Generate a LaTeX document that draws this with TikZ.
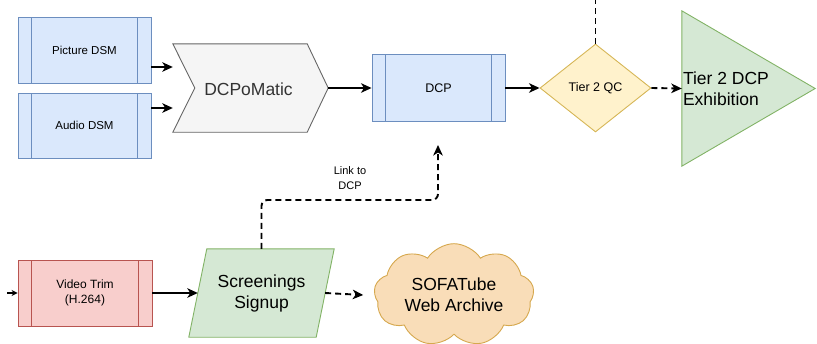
\documentclass[tikz,border=0pt]{standalone}
\usepackage{fontspec}
\setmainfont{Liberation Sans}
\usetikzlibrary{shapes.geometric,shapes.symbols,arrows.meta}
\definecolor{bfill}{HTML}{DAE8FC}\definecolor{bline}{HTML}{6C8EBF}
\definecolor{rfill}{HTML}{F8CECC}\definecolor{rline}{HTML}{B85450}
\definecolor{gfill}{HTML}{D5E8D4}\definecolor{gline}{HTML}{82B366}
\definecolor{yfill}{HTML}{FFF2CC}\definecolor{yline}{HTML}{D6B656}
\definecolor{grfill}{HTML}{F5F5F5}\definecolor{grline}{HTML}{666666}
\definecolor{ofill}{HTML}{F9DDB8}\definecolor{oline}{HTML}{D6A84E}
\tikzset{
  proc/.style={rectangle, draw=#1line, fill=#1fill, line width=0.9pt, inner sep=0pt, align=center,
    path picture={\draw[#1line, line width=0.9pt]
      ([xshift=13.5pt]path picture bounding box.north west) -- ([xshift=13.5pt]path picture bounding box.south west)
      ([xshift=-13.5pt]path picture bounding box.north east) -- ([xshift=-13.5pt]path picture bounding box.south east);}},
  ghost/.style={rectangle, inner sep=0pt},
  edge/.style={line width=1.9pt, -{Stealth[length=10.5pt,width=9.5pt,inset=3pt]}},
  dedge/.style={edge, dash pattern=on 6pt off 4pt},
  smalltxt/.style={font=\fontsize{11.5}{14}\selectfont},
  bigtxt/.style={font=\fontsize{17.5}{21}\selectfont, align=center},
}
\begin{document}
\begin{tikzpicture}[x=1pt,y=-1pt]
\useasboundingbox (0,0) rectangle (817,343);
% top row
\node[proc=b, minimum width=133pt, minimum height=66pt, smalltxt] (picdsm) at (84.5,50) {Picture DSM};
\node[proc=b, minimum width=133pt, minimum height=65pt, smalltxt] (audiodsm) at (84.5,125.5) {Audio DSM};
\node[ghost, minimum width=155pt, minimum height=88pt] (dcpo) at (250.5,88) {};
\draw[draw=grline, fill=grfill, line width=0.9pt] (dcpo.north west) -- ([xshift=-21pt]dcpo.north east) -- (dcpo.east)
  -- ([xshift=-21pt]dcpo.south east) -- (dcpo.south west) -- ([xshift=22pt]dcpo.west) -- cycle;
\node[bigtxt, text=black!80] (dcpotxt) at ([xshift=-2pt,yshift=-1pt]dcpo.center) {DCPoMatic};
\node[proc=b, minimum width=133pt, minimum height=67pt, font=\fontsize{12.5}{15}\selectfont] (dcp) at (438.5,88) {DCP};
\node[diamond, draw=yline, fill=yfill, line width=0.9pt, minimum width=111pt, minimum height=88pt, inner sep=0pt,
  font=\fontsize{12.5}{15}\selectfont] (qc) at (595.5,88) {Tier 2 QC};
\coordinate (qctop) at (595.5,0);
\node[ghost, minimum width=133pt, minimum height=155pt] (ex) at (748.5,88.5) {};
\draw[draw=gline, fill=gfill, line width=0.9pt] (ex.north west) -- (ex.east) -- (ex.south west) -- cycle;
\node[bigtxt, align=left, anchor=west, inner sep=0pt] (extxt) at ([xshift=1pt,yshift=0pt]ex.west) {Tier 2 DCP\\Exhibition};
% bottom row
\node[proc=r, minimum width=134pt, minimum height=66pt, font=\fontsize{12}{15}\selectfont] (vtrim) at (85,293) {Video Trim\\(H.264)};
\coordinate (stub) at (7,293);
\node[ghost, minimum width=145pt, minimum height=88pt] (signup) at (261.5,293) {};
\draw[draw=gline, fill=gfill, line width=0.9pt] ([xshift=18pt]signup.north west) -- (signup.north east)
  -- ([xshift=-18pt]signup.south east) -- (signup.south west) -- cycle;
\node[bigtxt] (signuptxt) at (signup.center) {Screenings\\Signup};
\node[cloud, cloud puffs=9, cloud puff arc=115, aspect=1.72, draw=oline, fill=ofill, line width=0.9pt,
  minimum width=160pt, minimum height=92pt, inner sep=0pt, bigtxt] (cloudn) at (454,295) {SOFATube\\Web Archive};
\coordinate (linkend) at (438,145);
\node[align=center, font=\fontsize{11}{15}\selectfont] (linklbl) at (350,178) {Link to\\DCP};
% connector anchor points
\coordinate (p1) at ([yshift=-17pt]picdsm.east);
\coordinate (a1) at ([yshift=17.5pt]audiodsm.east);
\coordinate (s1) at ([xshift=9pt]signup.west);
\coordinate (s2) at ([xshift=-9pt]signup.east);
\coordinate (c1) at ([xshift=-11pt]cloudn.west);
% connectors
\draw[edge] (p1) -- (dcpo.west |- p1);
\draw[edge] (a1) -- (dcpo.west |- a1);
\draw[edge] (dcpo.east) -- (dcp.west);
\draw[edge] (dcp.east) -- (qc.west);
\draw[line width=1.9pt, dash pattern=on 6pt off 4pt] (qc.north) -- (qctop);
\draw[dedge] (qc.east) -- (ex.west);
\draw[edge, -{Stealth[length=6pt,width=6pt,inset=2pt]}] (stub) -- (vtrim.west);
\draw[edge] (vtrim.east) -- (s1);
\draw[dedge] (s2) -- (c1);
\draw[dedge, rounded corners=6pt] (signup.north) -- (signup.north |- 0,200) -- (linkend |- 0,200) -- (linkend);
\end{tikzpicture}
\end{document}
